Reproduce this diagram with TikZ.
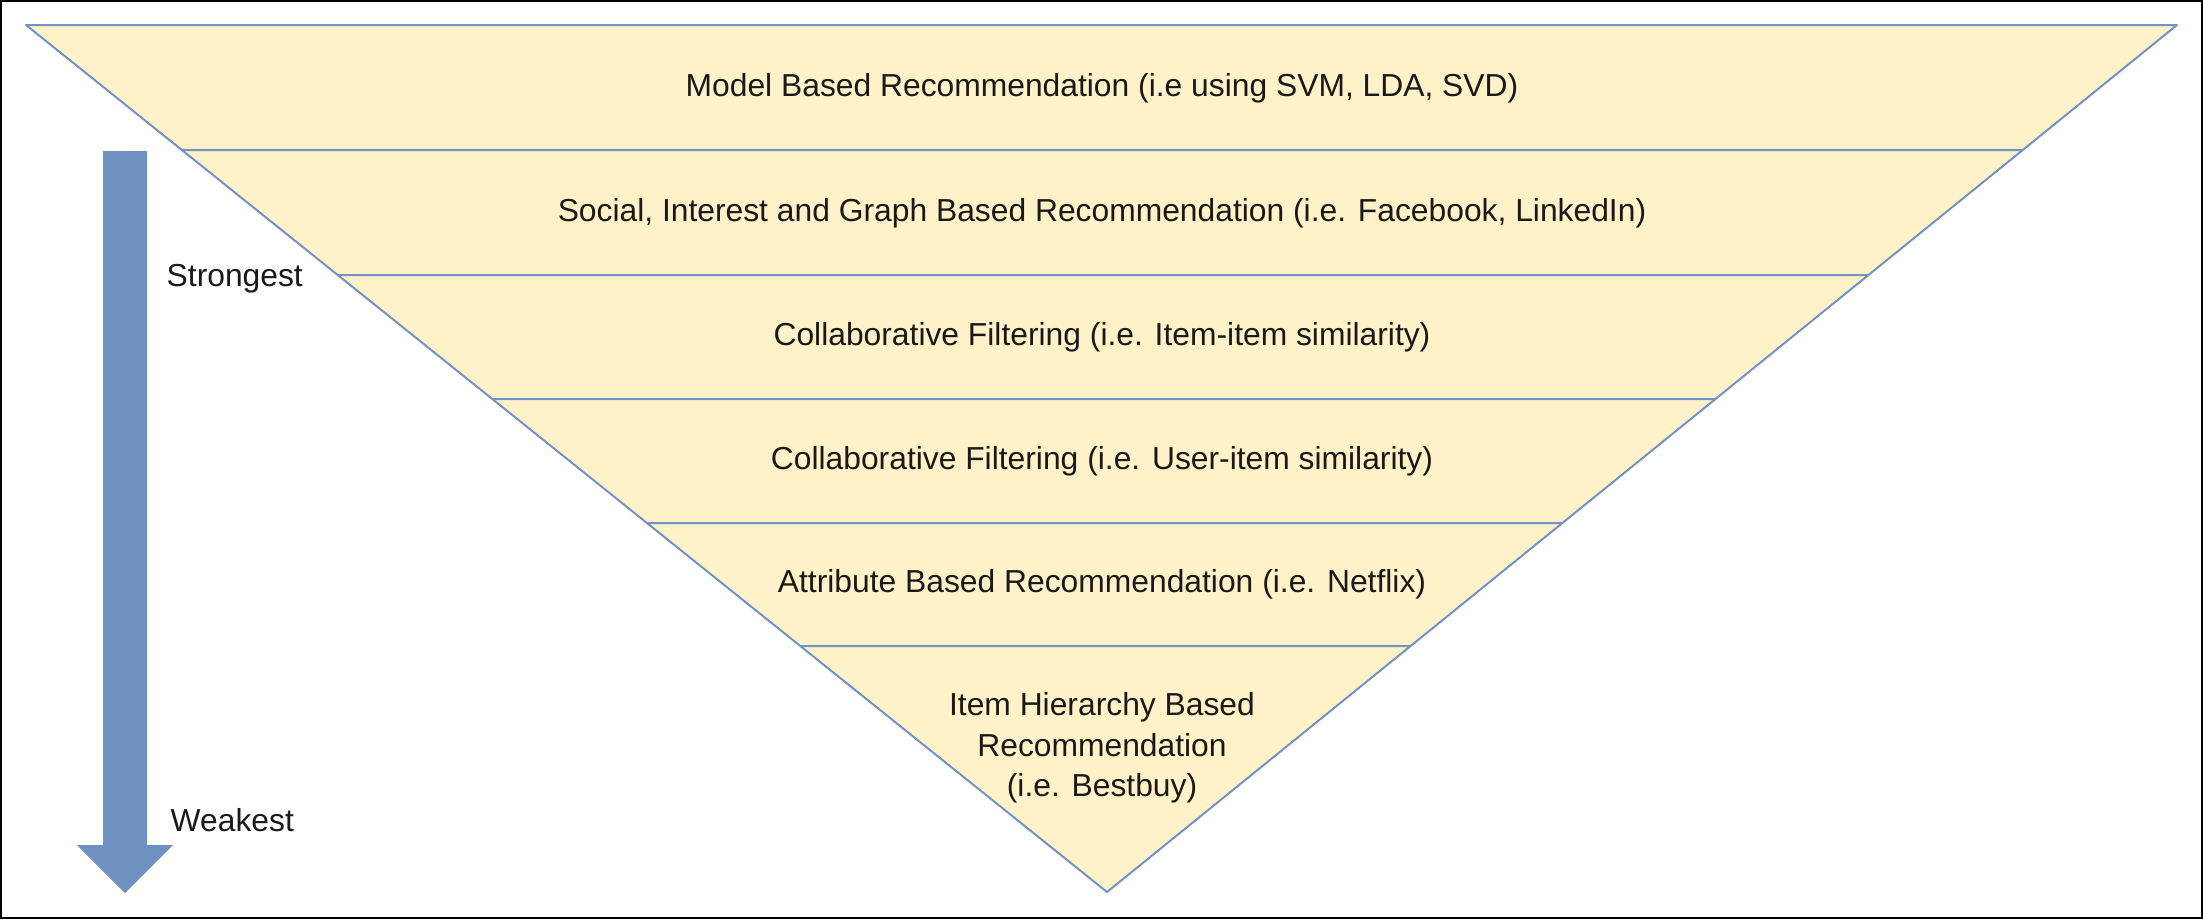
\documentclass[tikz,border=0pt]{standalone}
\usepackage{fontspec}
\setmainfont{Liberation Sans}
\usetikzlibrary{positioning,calc}
\definecolor{recoline}{HTML}{7293C3}
\definecolor{recoarrow}{HTML}{6F91C1}
\definecolor{recofill}{HTML}{FFF2C9}

\begin{document}
\begin{tikzpicture}[x=0.1mm,y=-0.1mm,
  layer/.style={font=\fontsize{9.05}{11.5}\selectfont,align=center,inner sep=0pt,text=black!90},
  side/.style={font=\fontsize{9.05}{11.5}\selectfont,anchor=west,inner sep=0pt,text=black!90},
  edge/.style={draw=recoline,line width=0.2mm}
]
\useasboundingbox (0,0) rectangle (2203,919);
\draw[line width=0.2mm] (1,1) rectangle (2202,918);
% triangle
\coordinate (tl) at (26,25);
\coordinate (tr) at (2177,25);
\coordinate (apex) at (1107,892);
\fill[recofill] (tl) -- (tr) -- (apex) -- cycle;
\foreach \y in {150,275,399,523,646}
  \draw[edge] (intersection of tl--apex and 0,\y--100,\y) -- (intersection of tr--apex and 0,\y--100,\y);
\draw[edge,line join=round] (tl) -- (tr) -- (apex) -- cycle;
% labels
\node[layer] (model) at (1102,88) {Model Based Recommendation (i.e using SVM, LDA, SVD)};
\node[layer] (social) at (1102,213) {Social, Interest and Graph Based Recommendation (i.e. Facebook, LinkedIn)};
\node[layer] (itemcf) at (1102,337) {Collaborative Filtering (i.e. Item-item similarity)};
\node[layer] (usercf) at (1102,461) {Collaborative Filtering (i.e. User-item similarity)};
\node[layer] (attr) at (1102,584) {Attribute Based Recommendation (i.e. Netflix)};
\node[layer] (hier) at (1102,748) {Item Hierarchy Based\\Recommendation\\(i.e. Bestbuy)};
% strength arrow
\fill[recoarrow] (103,151) -- (147,151) -- (147,845) -- (173,845) -- (125,893) -- (77,845) -- (103,845) -- cycle;
\node[side] (strong) at (166,279) {Strongest};
\node[side] (weak) at (170,820) {Weakest};
\end{tikzpicture}
\end{document}
